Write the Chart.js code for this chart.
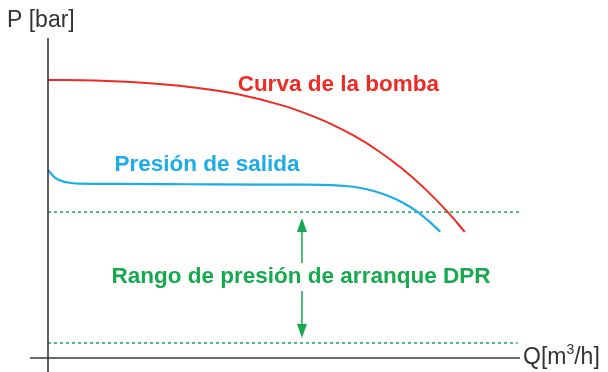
<!DOCTYPE html>
<html>
<head>
<meta charset="utf-8">
<script src="https://cdn.jsdelivr.net/npm/chart.js@4.4.1/dist/chart.umd.min.js"></script>
<style>
html,body{margin:0;padding:0;background:#fff;}
#wrap{width:608px;height:372px;position:relative;}
</style>
</head>
<body>
<div id="wrap"><canvas id="c" width="608" height="372"></canvas></div>
<script>
// Caudal Q [m3/h] y presión P [bar]
const pumpQ = [0, 1, 2, 3, 4, 5, 5.5, 6, 6.5, 7, 7.5, 8, 8.5, 8.83];
const pumpP = [8.69, 8.67, 8.60, 8.47, 8.25, 7.88, 7.62, 7.31, 6.93, 6.47, 5.92, 5.27, 4.51, 3.94];
const outQ = [0, 0.15, 0.36, 0.68, 1.5, 3, 4.5, 5.5, 6.0, 6.3, 6.6, 6.9, 7.2, 7.5, 7.8, 8.05, 8.31];
const outP = [5.875, 5.63, 5.50, 5.45, 5.44, 5.43, 5.42, 5.415, 5.40, 5.375, 5.32, 5.22, 5.07, 4.87, 4.60, 4.30, 3.95];
const dprRange = [0.47, 4.56];   // límites de presión de arranque
const qRange = [0, 10];
const pRange = [0, 10];

const labels = {
  pump: "Curva de la bomba",
  out: "Presión de salida",
  dpr: "Rango de presión de arranque DPR",
  yAxis: "P [bar]",
  xAxis: "Q[m³/h]"
};

const RED = '#ef2a22', BLUE = '#1cace9', GREEN = '#16a94e', AX = '#3a3a3a';

function pts(xs, ys){ return xs.map((x,i)=>({x:x, y:ys[i]})); }

const overlay = {
  id: 'overlay',
  afterDatasetsDraw(chart){
    const ctx = chart.ctx, xs = chart.scales.x, ys = chart.scales.y;
    const x0 = xs.getPixelForValue(0), y0 = ys.getPixelForValue(0);
    ctx.save();
    // axes
    ctx.strokeStyle = AX; ctx.lineWidth = 1.6;
    ctx.beginPath();
    ctx.moveTo(x0, ys.getPixelForValue(pRange[1])); ctx.lineTo(x0, 372);
    ctx.moveTo(30, y0); ctx.lineTo(xs.getPixelForValue(qRange[1]), y0);
    ctx.stroke();
    // axis titles
    ctx.fillStyle = '#333';
    const reg = '"Liberation Sans", Arial, sans-serif';
    ctx.font = '23px ' + reg;
    ctx.textBaseline = 'middle';
    ctx.textAlign = 'left';
    ctx.fillText(labels.yAxis, 7, 21);
    // Q[m3/h] with superscript
    let qx = xs.getPixelForValue(qRange[1]) + 3;
    const parts = ['Q[m', '3', '/h]'];
    ctx.fillText(parts[0], qx, y0); qx += ctx.measureText(parts[0]).width;
    ctx.font = '14px ' + reg;
    ctx.fillText(parts[1], qx, y0 - 8); qx += ctx.measureText(parts[1]).width;
    ctx.font = '23px ' + reg;
    ctx.fillText(parts[2], qx, y0);
    // arrow
    const ax = xs.getPixelForValue(5.38);
    const yt = ys.getPixelForValue(dprRange[1]) + 6, yb = ys.getPixelForValue(dprRange[0]) - 5;
    const ty = ys.getPixelForValue(2.53);
    ctx.strokeStyle = GREEN; ctx.fillStyle = GREEN; ctx.lineWidth = 1.5;
    ctx.beginPath();
    ctx.moveTo(ax, yt + 10); ctx.lineTo(ax, ty - 14);
    ctx.moveTo(ax, ty + 14); ctx.lineTo(ax, yb - 10);
    ctx.stroke();
    ctx.beginPath();
    ctx.moveTo(ax, yt); ctx.lineTo(ax - 5, yt + 14); ctx.lineTo(ax + 5, yt + 14); ctx.closePath(); ctx.fill();
    ctx.beginPath();
    ctx.moveTo(ax, yb); ctx.lineTo(ax - 5, yb - 14); ctx.lineTo(ax + 5, yb - 14); ctx.closePath(); ctx.fill();
    // series labels
    ctx.font = 'bold 22.5px "Liberation Sans", Arial, sans-serif';
    ctx.textAlign = 'center';
    ctx.fillStyle = RED;
    ctx.fillText(labels.pump, xs.getPixelForValue(6.15), ys.getPixelForValue(8.53));
    ctx.fillStyle = BLUE;
    ctx.fillText(labels.out, xs.getPixelForValue(3.37), ys.getPixelForValue(6.03));
    ctx.fillStyle = GREEN;
    ctx.fillText(labels.dpr, xs.getPixelForValue(5.36), ty);
    ctx.restore();
  }
};

new Chart(document.getElementById('c'), {
  type: 'scatter',
  data: {
    datasets: [
      { data: pts(pumpQ, pumpP), showLine: true, borderColor: RED, borderWidth: 2, pointRadius: 0, cubicInterpolationMode: 'monotone' },
      { data: pts(outQ, outP), showLine: true, borderColor: BLUE, borderWidth: 2.2, pointRadius: 0, cubicInterpolationMode: 'monotone' },
      { data: pts(qRange, [dprRange[1], dprRange[1]]), showLine: true, borderColor: GREEN, borderWidth: 1.5, borderDash: [3, 3], pointRadius: 0 },
      { data: pts([0, 9.95], [dprRange[0], dprRange[0]]), showLine: true, borderColor: GREEN, borderWidth: 1.5, borderDash: [3, 3], pointRadius: 0 }
    ]
  },
  options: {
    responsive: false,
    animation: false,
    layout: { padding: { left: 48, right: 88, top: 38, bottom: 14 } },
    plugins: { legend: { display: false }, tooltip: { enabled: false } },
    scales: {
      x: { type: 'linear', display: false, min: qRange[0], max: qRange[1] },
      y: { type: 'linear', display: false, min: pRange[0], max: pRange[1] }
    }
  },
  plugins: [overlay]
});
</script>
</body>
</html>
